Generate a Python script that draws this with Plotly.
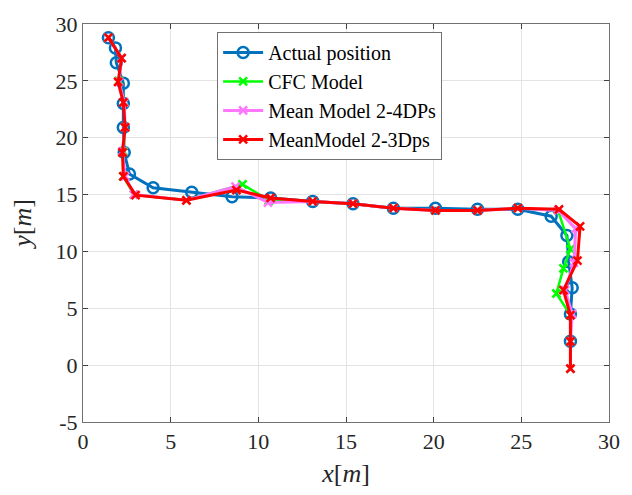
import plotly.graph_objects as go

# Actual position
act_x = [1.45, 1.85, 1.9, 2.3, 2.3, 2.3, 2.35, 2.65, 4.0, 6.2, 8.5, 10.7, 13.1, 15.4, 17.7, 20.1, 22.5, 24.8, 26.7, 27.6, 27.7, 27.9, 27.8, 27.8]
act_y = [28.8, 27.9, 26.6, 24.8, 23.0, 20.9, 18.7, 16.8, 15.6, 15.2, 14.8, 14.7, 14.4, 14.2, 13.8, 13.8, 13.7, 13.7, 13.1, 11.4, 9.1, 6.8, 4.5, 2.1]

# CFC Model
cfc_x = [1.45, 2.2, 2.05, 2.35, 2.4, 2.3, 2.3, 2.9, 5.9, 9.1, 10.6, 13.1, 15.4, 17.7, 20.1, 22.5, 24.8, 27.1, 27.8, 27.4, 27.0, 27.8, 27.8, 27.8]
cfc_y = [28.8, 27.0, 25.0, 23.1, 20.9, 18.8, 16.6, 15.0, 14.5, 15.9, 14.5, 14.4, 14.2, 13.8, 13.6, 13.6, 13.8, 13.6, 10.2, 8.5, 6.3, 4.4, 2.1, -0.3]

# Mean Model 2-4DPs
m24_x = [1.45, 2.2, 2.05, 2.35, 2.4, 2.25, 2.4, 2.9, 5.9, 8.7, 10.55, 13.1, 15.4, 17.7, 20.1, 22.5, 24.8, 27.1, 28.1, 28.0, 27.5, 27.9, 27.8, 27.8]
m24_y = [28.8, 27.0, 24.9, 23.1, 20.9, 18.8, 16.6, 15.0, 14.5, 15.7, 14.3, 14.4, 14.2, 13.8, 13.6, 13.6, 13.8, 13.6, 12.0, 9.0, 6.6, 4.5, 2.1, -0.3]

# MeanModel 2-3Dps
m23_x = [1.45, 2.2, 2.0, 2.3, 2.4, 2.25, 2.3, 3.0, 5.9, 8.75, 10.7, 13.1, 15.4, 17.7, 20.1, 22.5, 24.8, 27.15, 28.35, 28.2, 27.4, 27.8, 27.8, 27.8]
m23_y = [28.8, 27.0, 24.9, 23.1, 20.9, 18.7, 16.6, 14.95, 14.5, 15.4, 14.7, 14.4, 14.2, 13.8, 13.6, 13.6, 13.8, 13.7, 12.2, 9.2, 6.6, 4.4, 2.1, -0.3]

x_ticks = [0, 5, 10, 15, 20, 25, 30]
y_ticks = [-5, 0, 5, 10, 15, 20, 25, 30]

FONT = "Liberation Serif"

fig = go.Figure()
fig.add_trace(go.Scatter(x=act_x, y=act_y, mode="lines+markers", name="Actual position",
                         line=dict(color="#0072BD", width=3),
                         marker=dict(symbol="circle-open", size=11, color="#0072BD", line=dict(width=2.5))))
fig.add_trace(go.Scatter(x=cfc_x, y=cfc_y, mode="lines+markers", name="CFC Model",
                         line=dict(color="#00FF00", width=2.5),
                         marker=dict(symbol="x-thin-open", size=8, color="#00FF00", line=dict(width=2.5, color="#00FF00"))))
fig.add_trace(go.Scatter(x=m24_x, y=m24_y, mode="lines+markers", name="Mean Model 2-4DPs",
                         line=dict(color="#FF77FF", width=3),
                         marker=dict(symbol="x-thin-open", size=8, color="#FF77FF", line=dict(width=2.5, color="#FF77FF"))))
fig.add_trace(go.Scatter(x=m23_x, y=m23_y, mode="lines+markers", name="MeanModel 2-3Dps",
                         line=dict(color="#FF0000", width=3),
                         marker=dict(symbol="x-thin-open", size=8, color="#FF0000", line=dict(width=2.5, color="#FF0000"))))

axis_common = dict(showgrid=True, gridcolor="#E3E3E3", gridwidth=1, zeroline=False,
                   showline=True, linecolor="#707070", linewidth=1, mirror="ticks",
                   ticks="inside", ticklen=5, tickcolor="#404040",
                   tickfont=dict(family=FONT, size=22, color="#262626"))

fig.update_xaxes(range=[0, 30], tickvals=x_ticks, ticktext=[str(v) for v in x_ticks],
                 title=dict(text="<i>x</i>[<i>m</i>]", font=dict(family=FONT, size=26, color="#262626"), standoff=10),
                 **axis_common)
fig.update_yaxes(range=[-5, 30], tickvals=y_ticks, ticktext=[str(v) for v in y_ticks],
                 title=dict(text="<i>y</i>[<i>m</i>]", font=dict(family=FONT, size=26, color="#262626"), standoff=16),
                 **axis_common)

fig.update_layout(width=632, height=495, margin=dict(l=83, r=15, t=20, b=70),
                  plot_bgcolor="white", paper_bgcolor="white",
                  legend=dict(x=0.255, y=0.98, xanchor="left", yanchor="top",
                              bgcolor="white", bordercolor="#707070", borderwidth=1,
                              font=dict(family=FONT, size=20, color="black"),
                              tracegroupgap=0, itemwidth=40),
                  showlegend=True)

fig.write_html("out.html")
